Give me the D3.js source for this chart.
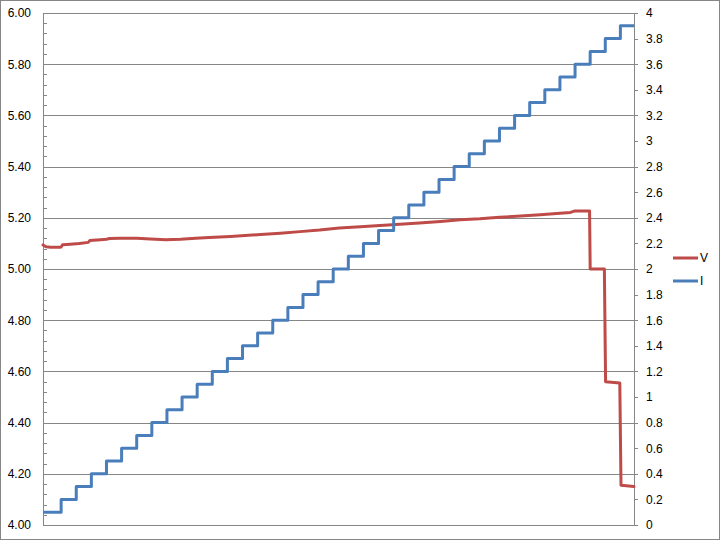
<!DOCTYPE html>
<html>
<head>
<meta charset="utf-8">
<script src="https://cdn.jsdelivr.net/npm/d3@7"></script>
<style>
  html, body { margin: 0; padding: 0; background: #fff; }
  svg { display: block; }
  text { font-family: "Liberation Sans", Arial, sans-serif; }
</style>
</head>
<body>
<svg id="chart" width="720" height="540"></svg>
<script>
// ---- data ----
// Current (I) staircase: level values and the time at which each level starts
const iLevels = [0.1,0.2,0.3,0.4,0.5,0.6,0.7,0.8,0.9,1.0,1.1,1.2,1.3,1.4,1.5,1.6,1.7,1.8,1.9,2.0,
                 2.1,2.2,2.3,2.4,2.5,2.6,2.7,2.8,2.9,3.0,3.1,3.2,3.3,3.4,3.5,3.6,3.7,3.8,3.9];
const iStarts = [0,12,22,32,42,52,62,72,82,92,102,112,122,132,142,152,162,172,182,192,
                 202,212,222,232,242,252,262,272,282,292,302,312,322,332,342,352,362,372,382];
const tEnd = 391;

// Voltage (V) samples
const vTime = [0, 2, 5, 11, 12, 13, 18, 24, 30, 31, 38, 42, 44, 51, 62, 71, 81, 91, 101, 110,
               124, 144, 157, 170, 183, 196, 210, 223, 236, 249, 263, 276, 289, 302, 316, 329,
               342, 349, 352, 361.6, 362, 371.4, 372.2, 381.6, 382.4, 391];
const vValues = [5.094, 5.087, 5.085, 5.085, 5.086, 5.095, 5.097, 5.100, 5.104, 5.111, 5.114, 5.116, 5.119, 5.120, 5.120, 5.117, 5.114, 5.116, 5.120, 5.123,
                 5.127, 5.135, 5.140, 5.146, 5.152, 5.160, 5.165, 5.170, 5.175, 5.180, 5.186, 5.192, 5.196, 5.202, 5.207, 5.212,
                 5.218, 5.221, 5.227, 5.227, 5.000, 5.000, 4.560, 4.555, 4.155, 4.150];

const leftTicks = [4.0, 4.2, 4.4, 4.6, 4.8, 5.0, 5.2, 5.4, 5.6, 5.8, 6.0];
const leftTickLabels = ["4.00","4.20","4.40","4.60","4.80","5.00","5.20","5.40","5.60","5.80","6.00"];
const rightTicks = [0,0.2,0.4,0.6,0.8,1,1.2,1.4,1.6,1.8,2,2.2,2.4,2.6,2.8,3,3.2,3.4,3.6,3.8,4];
const rightTickLabels = ["0","0.2","0.4","0.6","0.8","1","1.2","1.4","1.6","1.8","2","2.2","2.4","2.6","2.8","3","3.2","3.4","3.6","3.8","4"];
const seriesNames = ["V", "I"];
const seriesColors = ["#BE4B48", "#4A7EBB"];

// ---- layout ----
const svg = d3.select("#chart");
const L = 43, R = 634, T = 13, B = 525;
const gridColor = "#868686";

svg.append("rect").attr("x", 0.5).attr("y", 0.5).attr("width", 719).attr("height", 539)
  .attr("fill", "#fff").attr("stroke", gridColor).attr("stroke-width", 1);

const x = d3.scaleLinear().domain([0, tEnd]).range([L, R]);
const yL = d3.scaleLinear().domain([4, 6]).range([B, T]);
const yR = d3.scaleLinear().domain([0, 4]).range([B, T]);

// gridlines
const grid = svg.append("g").attr("transform", `translate(${L},0)`)
  .call(d3.axisLeft(yL).tickValues(leftTicks).tickSize(-(R - L)).tickFormat(""));
grid.select(".domain").remove();
grid.selectAll("line").attr("stroke", gridColor).attr("shape-rendering", "crispEdges");

// left minor ticks (inside)
const minor = d3.range(0, 51).map(i => 4 + i * 0.04);
const lm = svg.append("g").attr("transform", `translate(${L},0)`)
  .call(d3.axisRight(yL).tickValues(minor).tickSize(4).tickSizeOuter(0).tickFormat(""));
lm.select(".domain").attr("stroke", gridColor).attr("shape-rendering", "crispEdges");
lm.selectAll("line").attr("stroke", gridColor).attr("shape-rendering", "crispEdges");

// left labels
const ll = svg.append("g").attr("transform", `translate(${L},0)`)
  .call(d3.axisLeft(yL).tickValues(leftTicks).tickSize(0).tickPadding(12)
    .tickFormat((d, i) => leftTickLabels[i]));
ll.select(".domain").remove();
ll.selectAll("text").attr("font-size", 12).attr("fill", "#000")
  .style("font-family", "Liberation Sans, Arial, sans-serif");

// bottom axis line
svg.append("line").attr("x1", L).attr("x2", R).attr("y1", B).attr("y2", B)
  .attr("stroke", gridColor).attr("shape-rendering", "crispEdges");

// right axis
const ra = svg.append("g").attr("transform", `translate(${R},0)`)
  .call(d3.axisRight(yR).tickValues(rightTicks).tickSize(4).tickSizeOuter(0).tickPadding(8)
    .tickFormat((d, i) => rightTickLabels[i]));
ra.select(".domain").attr("stroke", gridColor).attr("shape-rendering", "crispEdges");
ra.selectAll("line").attr("stroke", gridColor).attr("shape-rendering", "crispEdges");
ra.selectAll("text").attr("font-size", 12).attr("fill", "#000")
  .style("font-family", "Liberation Sans, Arial, sans-serif");

// V series
const vData = vTime.map((t, i) => ({ t, v: vValues[i] }));
svg.append("path").datum(vData)
  .attr("fill", "none").attr("stroke", seriesColors[0]).attr("stroke-width", 3)
  .attr("stroke-linejoin", "round").attr("stroke-linecap", "round")
  .attr("d", d3.line().x(d => x(d.t)).y(d => yL(d.v)));

// I series (staircase)
const iData = iStarts.map((t, i) => ({ t, v: iLevels[i] }));
iData.push({ t: tEnd, v: iLevels[iLevels.length - 1] });
svg.append("path").datum(iData)
  .attr("fill", "none").attr("stroke", seriesColors[1]).attr("stroke-width", 3)
  .attr("stroke-linejoin", "round").attr("stroke-linecap", "butt")
  .attr("d", d3.line().curve(d3.curveStepAfter).x(d => x(d.t)).y(d => yR(d.v)));

// legend
const legY = [258, 281];
seriesNames.forEach((name, i) => {
  const g = svg.append("g");
  g.append("line").attr("x1", 673).attr("x2", 698).attr("y1", legY[i]).attr("y2", legY[i])
    .attr("stroke", seriesColors[i]).attr("stroke-width", 3);
  g.append("text").attr("x", 700).attr("y", legY[i]).attr("dy", "0.35em")
    .attr("font-size", 12).attr("fill", "#000").text(name);
});
</script>
</body>
</html>
